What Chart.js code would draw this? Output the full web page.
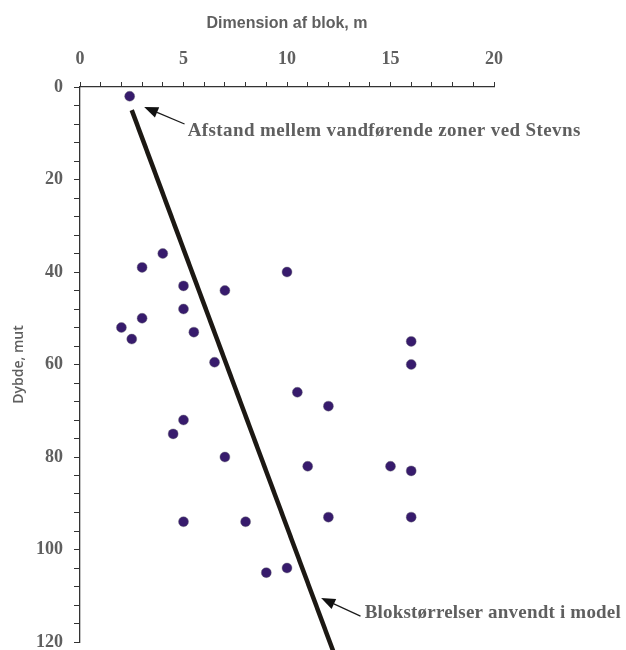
<!DOCTYPE html>
<html>
<head>
<meta charset="utf-8">
<script src="https://cdn.jsdelivr.net/npm/chart.js@4"></script>
<style>
  html, body { margin: 0; padding: 0; background: #fff; }
  #wrap { width: 626px; height: 650px; position: relative; }
</style>
</head>
<body>
<div id="wrap"><canvas id="c"></canvas></div>
<script>
// ---- data ----
const blokDim = [2.4, 4, 3, 5, 7, 10, 5, 3, 2, 2.5, 5.5, 6.5, 16, 16, 10.5, 12, 5, 4.5, 7, 11, 15, 16, 5, 8, 12, 16, 9, 10];
const dybde   = [2, 36, 39, 43, 44, 40, 48, 50, 52, 54.5, 53, 59.5, 55, 60, 66, 69, 72, 75, 80, 82, 82, 83, 94, 94, 93, 93, 105, 104];

// model line (block sizes used in model)
const modelDim   = [2.5, 12.4];
const modelDybde = [5, 124];

const xTitle = 'Dimension af blok, m';
const yTitle = 'Dybde, mut';
const noteTop = 'Afstand mellem vandførende zoner ved Stevns';
const noteBottom = 'Blokstørrelser anvendt i model';

const GREY = '#5f5f5f';
const SERIF = '"Liberation Serif", "DejaVu Serif", serif';
const SANS = '"Liberation Sans", Arial, sans-serif';

// arrows + labels, anchored in data units
const notes = [
  { text: noteTop,    tip: [3.1, 4.3],     tail: [5.05, 8.0],    at: [5.2, 9.6],    spacing: '0.4px' },
  { text: noteBottom, tip: [11.65, 110.5], tail: [13.55, 114.4], at: [13.75, 113.7], spacing: '0.2px' }
];

const notesPlugin = {
  id: 'notes',
  afterDatasetsDraw(chart) {
    const { ctx, scales: { x, y } } = chart;
    ctx.save();
    notes.forEach(n => {
      const tx = x.getPixelForValue(n.tip[0]), ty = y.getPixelForValue(n.tip[1]);
      const sx = x.getPixelForValue(n.tail[0]), sy = y.getPixelForValue(n.tail[1]);
      const ang = Math.atan2(ty - sy, tx - sx);
      const hl = 14, hw = 5.5;
      const bx = tx - hl * Math.cos(ang), by = ty - hl * Math.sin(ang);
      ctx.strokeStyle = '#1a1a1a';
      ctx.lineWidth = 1.2;
      ctx.beginPath(); ctx.moveTo(sx, sy); ctx.lineTo(bx, by); ctx.stroke();
      ctx.fillStyle = '#111';
      ctx.beginPath();
      ctx.moveTo(tx, ty);
      ctx.lineTo(bx + hw * Math.sin(ang), by - hw * Math.cos(ang));
      ctx.lineTo(bx - hw * Math.sin(ang), by + hw * Math.cos(ang));
      ctx.closePath(); ctx.fill();

      ctx.fillStyle = GREY;
      ctx.font = 'bold 19px ' + SERIF;
      ctx.letterSpacing = n.spacing;
      ctx.textAlign = 'left';
      ctx.textBaseline = 'middle';
      ctx.fillText(n.text, x.getPixelForValue(n.at[0]), y.getPixelForValue(n.at[1]));
    });
    ctx.restore();
  }
};

new Chart(document.getElementById('c'), {
  type: 'scatter',
  data: {
    datasets: [
      {
        label: 'model',
        type: 'line',
        data: modelDim.map((v, i) => ({ x: v, y: modelDybde[i] })),
        borderColor: '#1c1813',
        borderWidth: 4.5,
        pointRadius: 0,
        fill: false,
        clip: false
      },
      {
        label: 'blokke',
        data: blokDim.map((v, i) => ({ x: v, y: dybde[i] })),
        backgroundColor: '#371b6c',
        borderColor: 'rgba(110,110,120,0.7)',
        borderWidth: 0.6,
        pointRadius: 5
      }
    ]
  },
  options: {
    responsive: true,
    maintainAspectRatio: false,
    animation: false,
    layout: { padding: { left: 0, top: 0, right: 132, bottom: 8 } },
    plugins: { legend: { display: false }, tooltip: { enabled: false } },
    scales: {
      x: {
        type: 'linear',
        position: 'top',
        min: 0, max: 20,
        afterFit: s => { s.height = 87; },
        border: { display: true, color: '#333', width: 1.3 },
        grid: { drawOnChartArea: false, drawTicks: true, tickLength: 5, color: '#333' },
        ticks: {
          stepSize: 1, autoSkip: false, maxRotation: 0,
          padding: 12,
          color: GREY,
          font: { family: SERIF, size: 18, weight: 'bold' },
          callback: v => (v % 5 === 0 ? v : '')
        },
        title: {
          display: true, text: xTitle, color: GREY,
          font: { family: SANS, size: 16, weight: 'bold' },
          padding: { top: 14, bottom: 0 }
        }
      },
      y: {
        type: 'linear',
        reverse: true,
        min: 0, max: 120,
        afterFit: s => { s.width = 80; s.paddingTop = 0; s.paddingBottom = 0; },
        border: { display: true, color: '#333', width: 1.3 },
        grid: { drawOnChartArea: false, drawTicks: true, tickLength: 6, color: '#333' },
        ticks: {
          stepSize: 4, autoSkip: false,
          padding: 11,
          color: GREY,
          font: { family: SERIF, size: 18, weight: 'bold' },
          callback: v => (v % 20 === 0 ? v : '')
        },
        title: {
          display: true, text: yTitle, color: GREY,
          font: { family: '"Open Sans", sans-serif', size: 14, weight: '600' },
          padding: { top: 11, bottom: 0 }
        }
      }
    }
  },
  plugins: [notesPlugin]
});
</script>
</body>
</html>
